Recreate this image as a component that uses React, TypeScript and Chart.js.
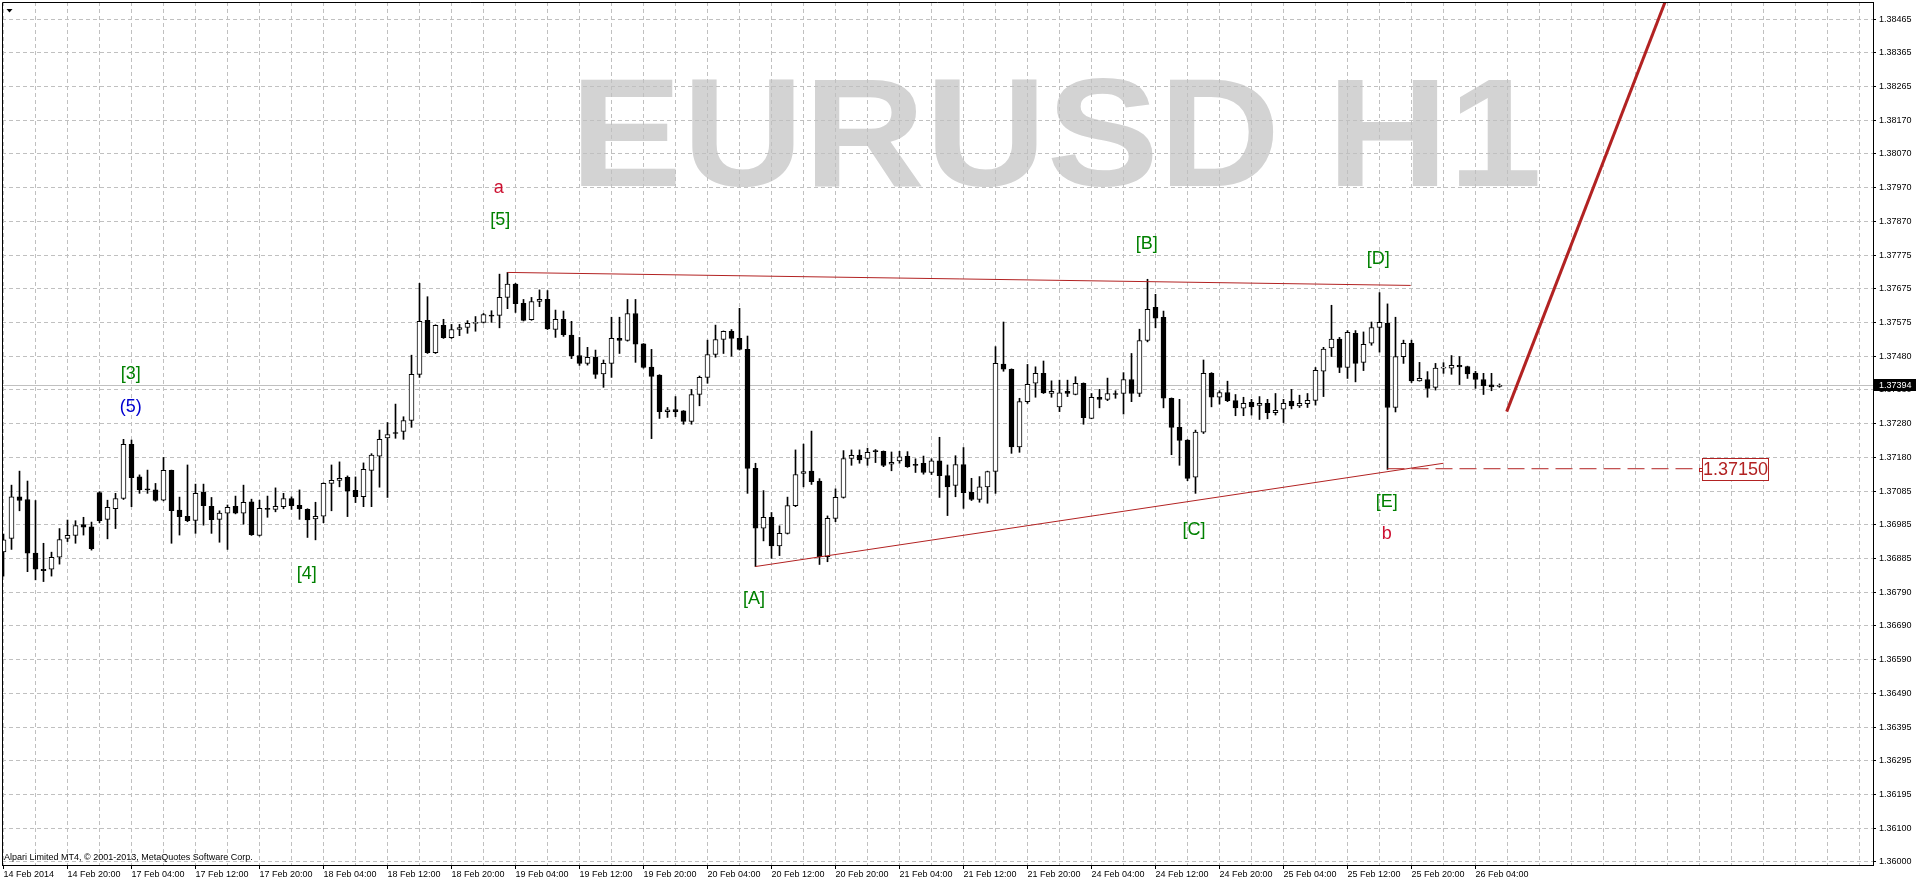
import React, { useEffect, useRef } from 'react';
import { Chart, registerables } from 'chart.js';

Chart.register(...registerables);

// ---- Candle data (EURUSD H1, index 0 = 14 Feb 2014 12:00) ----
const opens = [
  1.36907, 1.36946, 1.37068, 1.37060, 1.36903, 1.36856, 1.36856, 1.36891, 1.36946, 1.36955,
  1.36987, 1.36980, 1.37080, 1.37002, 1.37033, 1.37063, 1.37221, 1.37126, 1.37091, 1.37088,
  1.37058, 1.37145, 1.37029, 1.37011, 1.36999, 1.37082, 1.37040, 1.37002, 1.37020, 1.37040,
  1.37020, 1.37053, 1.36955, 1.37034, 1.37031, 1.37039, 1.37063, 1.37043, 1.37031, 1.37003,
  1.37011, 1.37107, 1.37116, 1.37125, 1.37087, 1.37068, 1.37145, 1.37187, 1.37240, 1.37256,
  1.37259, 1.37291, 1.37426, 1.37584, 1.37489, 1.37569, 1.37533, 1.37557, 1.37563, 1.37575,
  1.37578, 1.37598, 1.37598, 1.37651, 1.37690, 1.37634, 1.37586, 1.37639, 1.37645, 1.37557,
  1.37587, 1.37541, 1.37481, 1.37458, 1.37476, 1.37427, 1.37458, 1.37531, 1.37525, 1.37604,
  1.37515, 1.37447, 1.37424, 1.37317, 1.37323, 1.37319, 1.37288, 1.37367, 1.37417, 1.37484,
  1.37528, 1.37552, 1.37531, 1.37499, 1.37151, 1.36976, 1.37008, 1.36924, 1.36961, 1.37042,
  1.37136, 1.37143, 1.37114, 1.36893, 1.37005, 1.37066, 1.37180, 1.37189, 1.37180, 1.37203,
  1.37201, 1.37163, 1.37173, 1.37186, 1.37163, 1.37166, 1.37139, 1.37173, 1.37130, 1.37101,
  1.37162, 1.37081, 1.37060, 1.37097, 1.37142, 1.37456, 1.37441, 1.37214, 1.37346, 1.37400,
  1.37429, 1.37370, 1.37331, 1.37376, 1.37367, 1.37400, 1.37297, 1.37359, 1.37353, 1.37370,
  1.37370, 1.37411, 1.37370, 1.37525, 1.37622, 1.37593, 1.37356, 1.37271, 1.37234, 1.37125,
  1.37257, 1.37429, 1.37359, 1.37373, 1.37349, 1.37327, 1.37344, 1.37335, 1.37341, 1.37314,
  1.37324, 1.37347, 1.37334, 1.37340, 1.37350, 1.37435, 1.37503, 1.37529, 1.37446, 1.37546,
  1.37461, 1.37517, 1.37563, 1.37575, 1.37329, 1.37478, 1.37517, 1.37407, 1.37411, 1.37388,
  1.37444, 1.37444, 1.37452, 1.37449, 1.37430, 1.37411, 1.37395, 1.37391,
];
const highs = [
  1.36959, 1.37102, 1.37143, 1.37114, 1.37057, 1.36932, 1.36906, 1.36975, 1.37000, 1.36998,
  1.37008, 1.36994, 1.37083, 1.37058, 1.37078, 1.37236, 1.37234, 1.37132, 1.37146, 1.37107,
  1.37183, 1.37146, 1.37067, 1.37161, 1.37105, 1.37105, 1.37066, 1.37027, 1.37044, 1.37070,
  1.37102, 1.37061, 1.37058, 1.37070, 1.37094, 1.37078, 1.37068, 1.37088, 1.37033, 1.37052,
  1.37109, 1.37161, 1.37170, 1.37129, 1.37126, 1.37167, 1.37194, 1.37263, 1.37285, 1.37339,
  1.37302, 1.37482, 1.37692, 1.37653, 1.37571, 1.37587, 1.37572, 1.37572, 1.37583, 1.37595,
  1.37604, 1.37612, 1.37719, 1.37724, 1.37692, 1.37645, 1.37651, 1.37673, 1.37671, 1.37614,
  1.37611, 1.37581, 1.37534, 1.37505, 1.37497, 1.37468, 1.37593, 1.37593, 1.37645, 1.37645,
  1.37516, 1.37499, 1.37425, 1.37329, 1.37361, 1.37320, 1.37382, 1.37421, 1.37526, 1.37570,
  1.37553, 1.37557, 1.37619, 1.37538, 1.37166, 1.37086, 1.37022, 1.36983, 1.37067, 1.37205,
  1.37222, 1.37260, 1.37121, 1.37012, 1.37091, 1.37203, 1.37205, 1.37205, 1.37210, 1.37206,
  1.37202, 1.37199, 1.37201, 1.37200, 1.37179, 1.37187, 1.37179, 1.37242, 1.37161, 1.37188,
  1.37212, 1.37122, 1.37127, 1.37143, 1.37507, 1.37579, 1.37442, 1.37356, 1.37455, 1.37448,
  1.37465, 1.37407, 1.37409, 1.37409, 1.37419, 1.37401, 1.37370, 1.37382, 1.37415, 1.37378,
  1.37431, 1.37487, 1.37558, 1.37704, 1.37660, 1.37611, 1.37357, 1.37353, 1.37235, 1.37263,
  1.37468, 1.37431, 1.37378, 1.37406, 1.37367, 1.37359, 1.37353, 1.37361, 1.37353, 1.37370,
  1.37353, 1.37382, 1.37365, 1.37370, 1.37446, 1.37505, 1.37628, 1.37534, 1.37554, 1.37554,
  1.37550, 1.37579, 1.37665, 1.37632, 1.37593, 1.37526, 1.37526, 1.37461, 1.37434, 1.37458,
  1.37460, 1.37481, 1.37478, 1.37450, 1.37435, 1.37429, 1.37429, 1.37398,
];
const lows = [
  1.36836, 1.36914, 1.37027, 1.36849, 1.36825, 1.36820, 1.36836, 1.36871, 1.36937, 1.36932,
  1.36956, 1.36912, 1.36992, 1.36945, 1.36975, 1.37060, 1.37039, 1.37078, 1.37078, 1.37055,
  1.37056, 1.36932, 1.36956, 1.36995, 1.36961, 1.36985, 1.36961, 1.36935, 1.36914, 1.37018,
  1.36988, 1.36955, 1.36953, 1.37008, 1.37024, 1.37033, 1.37031, 1.37002, 1.36949, 1.36942,
  1.36992, 1.37027, 1.37097, 1.37010, 1.37051, 1.37039, 1.37039, 1.37096, 1.37066, 1.37239,
  1.37236, 1.37271, 1.37417, 1.37487, 1.37487, 1.37531, 1.37531, 1.37539, 1.37546, 1.37552,
  1.37576, 1.37578, 1.37562, 1.37618, 1.37607, 1.37582, 1.37584, 1.37624, 1.37557, 1.37534,
  1.37537, 1.37472, 1.37452, 1.37453, 1.37414, 1.37388, 1.37417, 1.37487, 1.37523, 1.37461,
  1.37444, 1.37238, 1.37297, 1.37300, 1.37302, 1.37280, 1.37280, 1.37334, 1.37400, 1.37476,
  1.37487, 1.37479, 1.37497, 1.37078, 1.36864, 1.36939, 1.36888, 1.36896, 1.36959, 1.37039,
  1.37097, 1.37104, 1.36870, 1.36878, 1.36995, 1.37064, 1.37160, 1.37166, 1.37160, 1.37168,
  1.37156, 1.37144, 1.37166, 1.37154, 1.37139, 1.37134, 1.37133, 1.37066, 1.37013, 1.37068,
  1.37034, 1.37057, 1.37052, 1.37049, 1.37078, 1.37435, 1.37195, 1.37198, 1.37341, 1.37359,
  1.37370, 1.37359, 1.37317, 1.37361, 1.37366, 1.37280, 1.37296, 1.37328, 1.37349, 1.37356,
  1.37310, 1.37346, 1.37361, 1.37521, 1.37562, 1.37328, 1.37191, 1.37160, 1.37115, 1.37078,
  1.37253, 1.37331, 1.37339, 1.37346, 1.37305, 1.37305, 1.37307, 1.37294, 1.37296, 1.37307,
  1.37285, 1.37325, 1.37329, 1.37329, 1.37336, 1.37361, 1.37478, 1.37431, 1.37414, 1.37404,
  1.37437, 1.37511, 1.37491, 1.37148, 1.37316, 1.37458, 1.37402, 1.37406, 1.37359, 1.37380,
  1.37429, 1.37426, 1.37396, 1.37414, 1.37385, 1.37367, 1.37378, 1.37388,
];
const closes = [
  1.36942, 1.37068, 1.37057, 1.36903, 1.36856, 1.36852, 1.36891, 1.36943, 1.36955, 1.36984,
  1.36979, 1.36916, 1.36998, 1.37037, 1.37063, 1.37221, 1.37124, 1.37089, 1.37088, 1.37057,
  1.37145, 1.37027, 1.37010, 1.36998, 1.37078, 1.37042, 1.37001, 1.37020, 1.37037, 1.37020,
  1.37052, 1.36957, 1.37034, 1.37031, 1.37040, 1.37063, 1.37042, 1.37033, 1.37000, 1.37011,
  1.37107, 1.37116, 1.37122, 1.37084, 1.37068, 1.37148, 1.37190, 1.37236, 1.37250, 1.37253,
  1.37291, 1.37426, 1.37581, 1.37489, 1.37569, 1.37533, 1.37557, 1.37563, 1.37575, 1.37578,
  1.37601, 1.37596, 1.37651, 1.37690, 1.37633, 1.37584, 1.37639, 1.37645, 1.37559, 1.37587,
  1.37542, 1.37480, 1.37458, 1.37476, 1.37426, 1.37458, 1.37531, 1.37525, 1.37604, 1.37514,
  1.37446, 1.37420, 1.37317, 1.37322, 1.37317, 1.37288, 1.37367, 1.37417, 1.37484, 1.37528,
  1.37552, 1.37531, 1.37499, 1.37151, 1.36976, 1.37008, 1.36924, 1.36961, 1.37042, 1.37133,
  1.37142, 1.37112, 1.36893, 1.37005, 1.37066, 1.37180, 1.37189, 1.37176, 1.37198, 1.37200,
  1.37160, 1.37169, 1.37185, 1.37156, 1.37160, 1.37139, 1.37173, 1.37130, 1.37097, 1.37162,
  1.37080, 1.37060, 1.37097, 1.37142, 1.37458, 1.37441, 1.37214, 1.37346, 1.37397, 1.37429,
  1.37372, 1.37376, 1.37372, 1.37370, 1.37400, 1.37299, 1.37359, 1.37353, 1.37370, 1.37367,
  1.37411, 1.37370, 1.37525, 1.37616, 1.37590, 1.37356, 1.37271, 1.37233, 1.37122, 1.37257,
  1.37429, 1.37359, 1.37373, 1.37349, 1.37328, 1.37341, 1.37331, 1.37341, 1.37314, 1.37321,
  1.37341, 1.37334, 1.37341, 1.37350, 1.37438, 1.37500, 1.37529, 1.37446, 1.37549, 1.37458,
  1.37514, 1.37563, 1.37578, 1.37329, 1.37478, 1.37517, 1.37407, 1.37414, 1.37385, 1.37444,
  1.37446, 1.37452, 1.37448, 1.37427, 1.37411, 1.37393, 1.37389, 1.37394,
];

// ---- Axis labels ----
const xTickLabels = [
  '14 Feb 2014', '14 Feb 20:00', '17 Feb 04:00', '17 Feb 12:00', '17 Feb 20:00', '18 Feb 04:00',
  '18 Feb 12:00', '18 Feb 20:00', '19 Feb 04:00', '19 Feb 12:00', '19 Feb 20:00', '20 Feb 04:00',
  '20 Feb 12:00', '20 Feb 20:00', '21 Feb 04:00', '21 Feb 12:00', '21 Feb 20:00', '24 Feb 04:00',
  '24 Feb 12:00', '24 Feb 20:00', '25 Feb 04:00', '25 Feb 12:00', '25 Feb 20:00', '26 Feb 04:00',
];
const yTickLabels = [
  '1.36000', '1.36100', '1.36195', '1.36295', '1.36395', '1.36490', '1.36590', '1.36690',
  '1.36790', '1.36885', '1.36985', '1.37085', '1.37180', '1.37280', '1.37380', '1.37480',
  '1.37575', '1.37675', '1.37775', '1.37870', '1.37970', '1.38070', '1.38170', '1.38265',
  '1.38365', '1.38465',
];
const yTickFirst = 1.36;
const yTickLast = 1.38465;

// ---- Drawn objects (index, price) ----
const upperLineX = [63, 175.9];
const upperLineY = [1.37724, 1.37686];
const lowerLineX = [94, 180];
const lowerLineY = [1.36864, 1.37166];
const targetLineX = [187.9, 207.8];
const targetLineY = [1.37317, 1.38521];
const levelLineX = [173, 212.06];
const levelPrice = 1.3715;
const levelText = '1.37150';
const currentPrice = 1.37394;
const currentPriceText = '1.37394';

const waveTexts = ['a', '[5]', '[3]', '(5)', '[4]', '[A]', '[B]', '[C]', '[D]', '[E]', 'b'];
const waveX = [61.9, 62.1, 15.9, 15.9, 37.9, 93.8, 142.9, 148.8, 171.85, 172.9, 172.9];
const waveY = [1.37971, 1.37877, 1.37427, 1.3733, 1.36842, 1.36768, 1.37807, 1.36971, 1.37762, 1.37054, 1.36959];
const waveColors = ['#CC1030', '#008000', '#008000', '#0000D0', '#008000', '#008000', '#008000', '#008000', '#008000', '#008000', '#CC1030'];

const watermarkText = 'EURUSD H1';
const copyrightText = 'Alpari Limited MT4, \u00A9 2001-2013, MetaQuotes Software Corp.';

const RED = '#B22222';
const FONT = '"Liberation Sans", Arial, sans-serif';

const overlayPlugin = {
  id: 'mtOverlay',
  beforeDraw(chart: any) {
    const ctx = chart.ctx;
    ctx.save();
    ctx.font = `bold 154px ${FONT}`;
    ctx.fillStyle = '#D3D3D3';
    ctx.textAlign = 'left';
    ctx.textBaseline = 'alphabetic';
    const m = ctx.measureText(watermarkText);
    const inkW = m.actualBoundingBoxLeft + m.actualBoundingBoxRight;
    const sx = 957 / inkW;
    ctx.translate(581, 186);
    ctx.scale(sx, 1);
    ctx.fillText(watermarkText, m.actualBoundingBoxLeft, 0);
    ctx.restore();
  },
  beforeDatasetsDraw(chart: any) {
    const ctx = chart.ctx;
    const { left, right } = chart.chartArea;
    const y = Math.round(chart.scales.y.getPixelForValue(currentPrice)) + 0.5;
    ctx.save();
    ctx.strokeStyle = '#C0C0C0';
    ctx.lineWidth = 1;
    ctx.beginPath();
    ctx.moveTo(left, y);
    ctx.lineTo(right, y);
    ctx.stroke();
    ctx.restore();
  },
  afterDatasetsDraw(chart: any) {
    const ctx = chart.ctx;
    const xs = chart.scales.x;
    const ys = chart.scales.y;
    const { left, top, right, bottom } = chart.chartArea;
    ctx.save();
    // wave labels
    ctx.font = `18px ${FONT}`;
    ctx.textAlign = 'center';
    ctx.textBaseline = 'middle';
    waveTexts.forEach((t, i) => {
      ctx.fillStyle = waveColors[i];
      ctx.fillText(t, xs.getPixelForValue(waveX[i]), ys.getPixelForValue(waveY[i]));
    });
    // level label box
    const lx = xs.getPixelForValue(levelLineX[1]);
    const ly = ys.getPixelForValue(levelPrice);
    ctx.strokeStyle = RED;
    ctx.fillStyle = '#ffffff';
    ctx.lineWidth = 1;
    ctx.fillRect(Math.round(lx) - 1, Math.round(ly) - 1, 3, 3);
    ctx.strokeRect(Math.round(lx) - 0.5, Math.round(ly) - 0.5, 3, 3);
    const bx = Math.round(lx) + 2.5;
    const by = Math.round(ly) - 10.5;
    ctx.fillRect(bx, by, 66, 22);
    ctx.strokeRect(bx, by, 66, 22);
    ctx.fillStyle = RED;
    ctx.font = `18px ${FONT}`;
    ctx.fillText(levelText, bx + 33, by + 11.5);
    // copyright
    ctx.fillStyle = '#000';
    ctx.font = `9px ${FONT}`;
    ctx.textAlign = 'left';
    ctx.fillText(copyrightText, 4, 858);
    // small triangle marker
    ctx.beginPath();
    ctx.moveTo(6.5, 9);
    ctx.lineTo(12.5, 9);
    ctx.lineTo(9.5, 12.5);
    ctx.closePath();
    ctx.fill();
    // left / top frame
    ctx.strokeStyle = '#000';
    ctx.beginPath();
    ctx.moveTo(left + 0.5, bottom);
    ctx.lineTo(left + 0.5, top + 0.5);
    ctx.lineTo(right, top + 0.5);
    ctx.stroke();
    ctx.restore();
  },
  afterDraw(chart: any) {
    const ctx = chart.ctx;
    const ys = chart.scales.y;
    const y = Math.round(ys.getPixelForValue(currentPrice));
    const x0 = chart.chartArea.right + 1;
    ctx.save();
    ctx.fillStyle = '#000';
    ctx.fillRect(x0, y - 6, chart.width - x0, 12);
    ctx.fillStyle = '#fff';
    ctx.font = `9px ${FONT}`;
    ctx.textAlign = 'left';
    ctx.textBaseline = 'middle';
    ctx.fillText(currentPriceText, x0 + 5, y + 0.5);
    ctx.restore();
  },
};

export default function App() {
  const canvasRef = useRef<HTMLCanvasElement | null>(null);

  useEffect(() => {
    document.body.style.margin = '0';
    const idx = opens.map((_, i) => i);
    const bodyData = idx.map((i) => ({ x: i, y: [opens[i], closes[i]] }));
    const wickData = idx.map((i) => ({ x: i, y: [lows[i], highs[i]] }));
    const bodyColors = idx.map((i) => (closes[i] >= opens[i] ? '#ffffff' : '#000000'));
    const line = (xa: number[], ya: number[]) => xa.map((x, i) => ({ x, y: ya[i] }));

    const chart = new Chart(canvasRef.current as HTMLCanvasElement, {
      type: 'bar',
      data: {
        datasets: [
          {
            type: 'bar',
            data: bodyData as any,
            backgroundColor: bodyColors,
            borderColor: '#000000',
            borderWidth: 1,
            borderSkipped: false,
            barThickness: 5,
            minBarLength: 1,
            grouped: false,
            order: 2,
          } as any,
          {
            type: 'bar',
            data: wickData as any,
            backgroundColor: '#000000',
            borderWidth: 0,
            barThickness: 1,
            grouped: false,
            order: 3,
          } as any,
          {
            type: 'line',
            data: line(upperLineX, upperLineY),
            borderColor: RED,
            borderWidth: 1,
            pointRadius: 0,
            order: 1,
          } as any,
          {
            type: 'line',
            data: line(lowerLineX, lowerLineY),
            borderColor: RED,
            borderWidth: 1,
            pointRadius: 0,
            order: 1,
          } as any,
          {
            type: 'line',
            data: line(levelLineX, levelLineX.map(() => levelPrice)),
            borderColor: RED,
            borderWidth: 1,
            borderDash: [17, 7],
            pointRadius: 0,
            order: 1,
          } as any,
          {
            type: 'line',
            data: line(targetLineX, targetLineY),
            borderColor: RED,
            borderWidth: 3,
            pointRadius: 0,
            order: 0,
          } as any,
        ],
      },
      options: {
        responsive: false,
        devicePixelRatio: 1,
        animation: false,
        events: [],
        layout: { padding: { left: 2, top: 2, right: 0, bottom: 0 } },
        plugins: { legend: { display: false }, tooltip: { enabled: false } },
        scales: {
          x: {
            type: 'linear',
            position: 'bottom',
            min: -0.1875,
            max: 233.6875,
            offset: false,
            afterBuildTicks: (scale: any) => {
              const t: any[] = [];
              for (let v = 0; v <= 232; v += 4) t.push({ value: v });
              scale.ticks = t;
            },
            afterFit: (scale: any) => {
              scale.height = 19;
              scale.paddingLeft = 0;
              scale.paddingRight = 0;
            },
            grid: {
              offset: false,
              color: '#C0C0C0',
              lineWidth: 1,
              drawTicks: true,
              tickLength: 4,
              tickColor: (c: any) => (c.tick && c.tick.label ? '#000000' : 'rgba(0,0,0,0)'),
            },
            border: { display: true, color: '#000000', width: 1, dash: [4, 3] },
            ticks: {
              autoSkip: false,
              maxRotation: 0,
              minRotation: 0,
              align: 'start',
              padding: 0,
              color: '#000000',
              font: { family: FONT, size: 9 },
              callback: (value: any) => {
                const v = Math.round(Number(value));
                return v % 8 === 0 && v / 8 < xTickLabels.length ? xTickLabels[v / 8] : '';
              },
            },
          } as any,
          y: {
            type: 'linear',
            position: 'right',
            min: 1.359912,
            max: 1.385148,
            afterBuildTicks: (scale: any) => {
              const n = yTickLabels.length;
              scale.ticks = yTickLabels.map((_, i) => ({
                value: yTickFirst + (i * (yTickLast - yTickFirst)) / (n - 1),
              }));
            },
            afterFit: (scale: any) => {
              scale.width = 43;
              scale.paddingTop = 0;
              scale.paddingBottom = 0;
            },
            grid: {
              color: '#C0C0C0',
              lineWidth: 1,
              drawTicks: true,
              tickLength: 3,
              tickColor: '#000000',
            },
            border: { display: true, color: '#000000', width: 1, dash: [4, 3] },
            ticks: {
              padding: 3,
              color: '#000000',
              font: { family: FONT, size: 9 },
              callback: (_v: any, i: number) => yTickLabels[i],
            },
          } as any,
        },
      } as any,
      plugins: [overlayPlugin as any],
    });
    return () => chart.destroy();
  }, []);

  return (
    <div style={{ position: 'absolute', left: 0, top: 0, width: 1916, height: 884, background: '#ffffff' }}>
      <canvas ref={canvasRef} width={1916} height={884} style={{ display: 'block', width: 1916, height: 884 }} />
    </div>
  );
}
